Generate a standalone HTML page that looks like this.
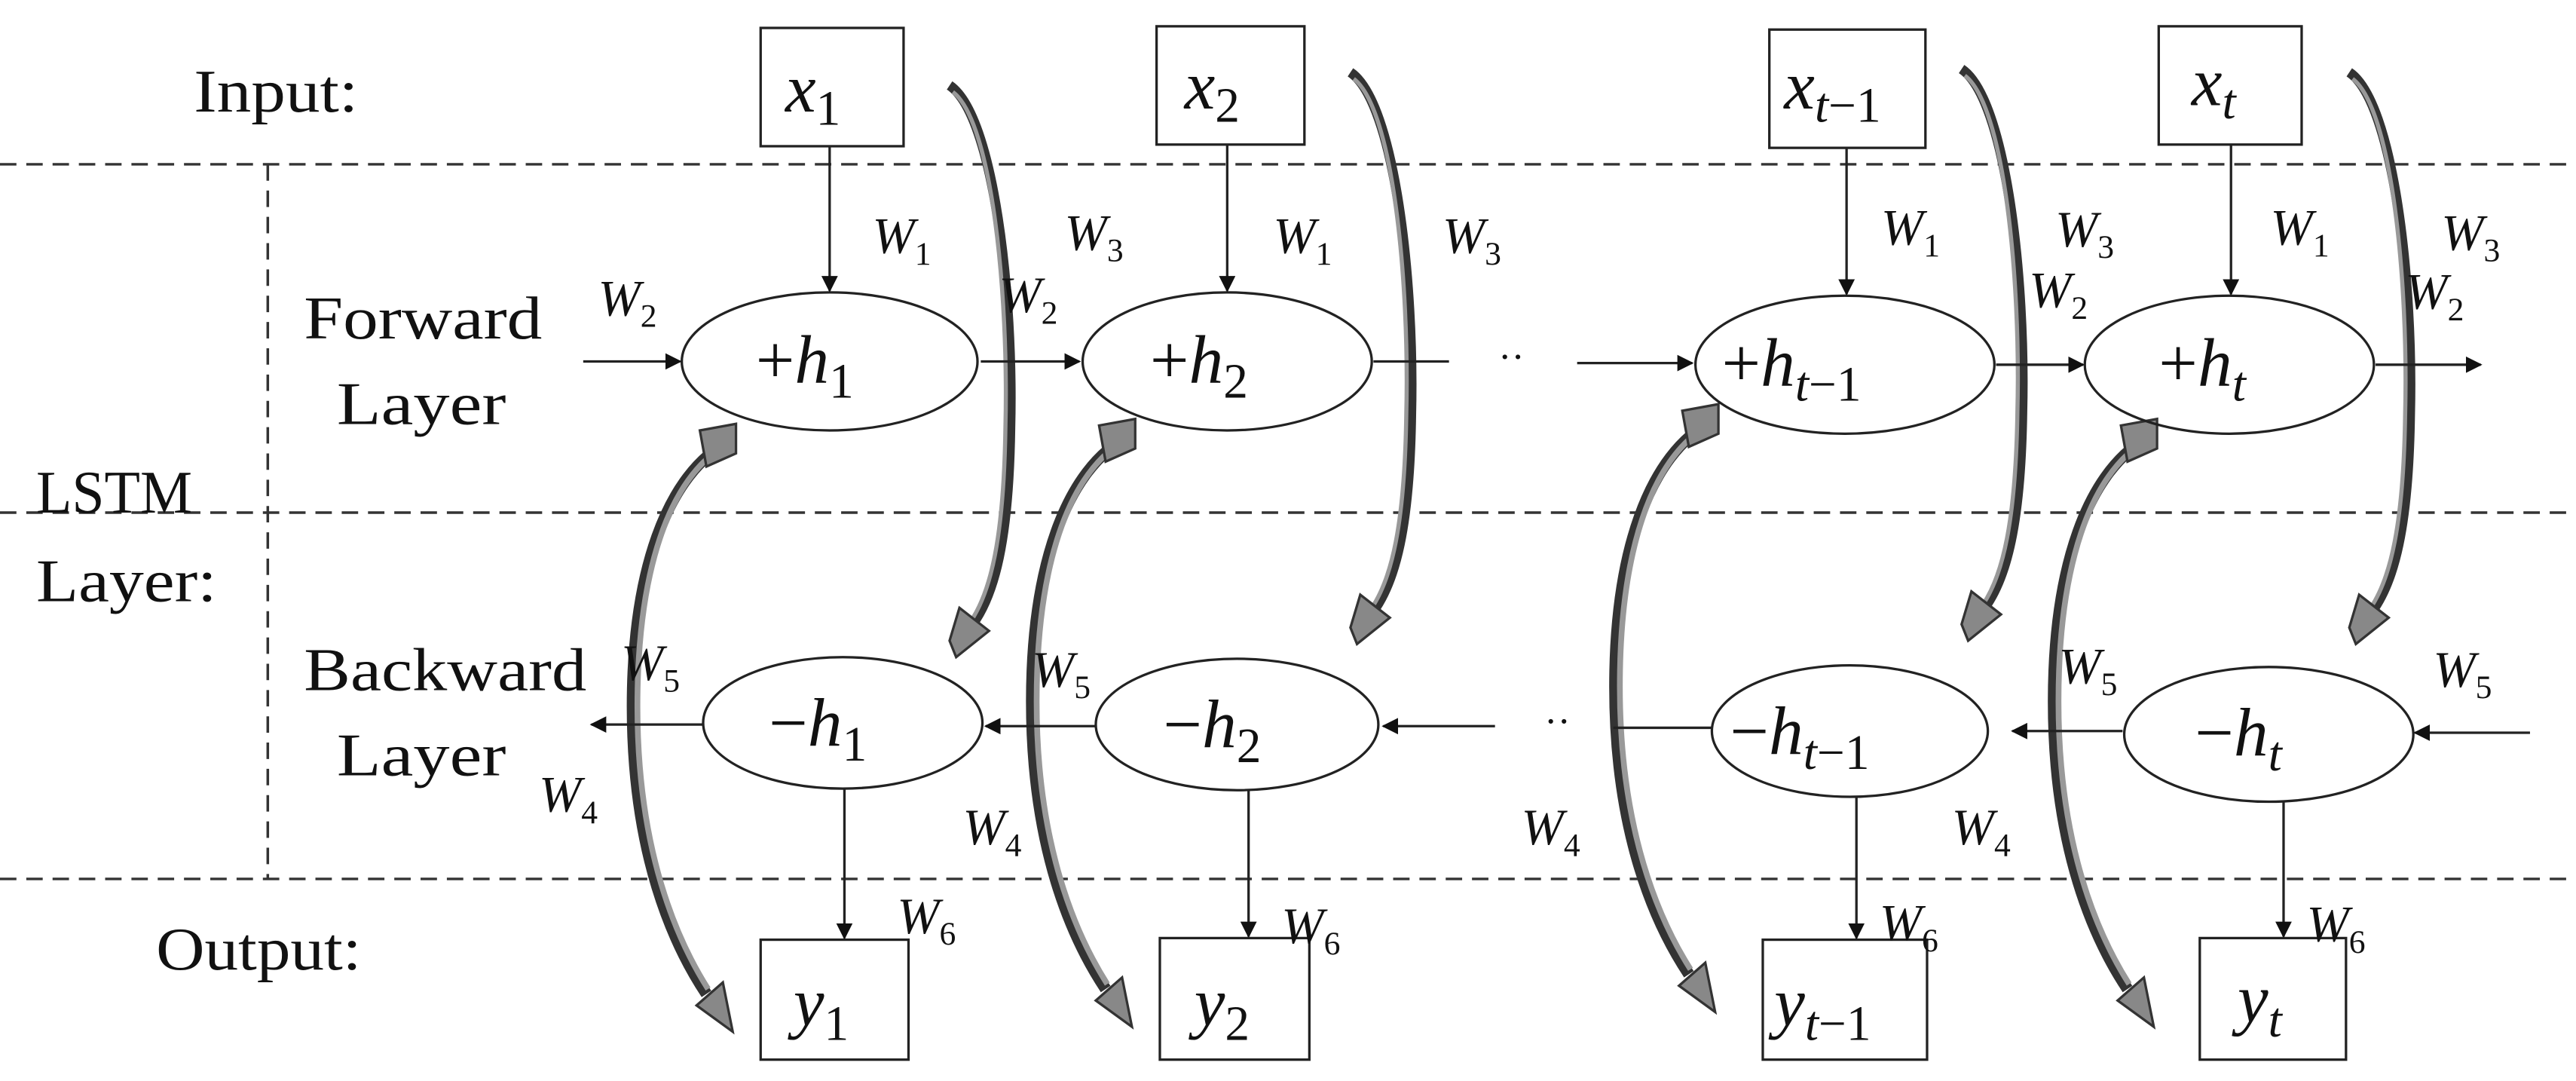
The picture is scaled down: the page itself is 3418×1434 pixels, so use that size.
<!DOCTYPE html>
<html><head><meta charset="utf-8"><style>
html,body{margin:0;padding:0;background:#fff;}
svg{display:block;}
text{font-family:"Liberation Serif",serif;fill:#111;}
.v{font-style:italic;}
</style></head><body>
<svg width="3418" height="1434" viewBox="0 0 1568 658" preserveAspectRatio="none" xmlns="http://www.w3.org/2000/svg">
<defs>
<marker id="ah" markerWidth="10" markerHeight="10" refX="9" refY="5" orient="auto" markerUnits="userSpaceOnUse">
<path d="M0,0 L10,5 L0,10 z" fill="#111"/>
</marker>
<g id="cA">
<path d="M578,52 C605,70 617,180 615,260 C614,330 605,362 592,380" fill="none" stroke="#333" stroke-width="6"/>
<path d="M580,56 C604,74 614,180 612,260 C611,328 603,360 591,378" fill="none" stroke="#999" stroke-width="2.5"/>
<polygon points="584,370 602,384 582,400 578,390" fill="#888" stroke="#333" stroke-width="1.5"/>
</g>
<g id="cB">
<path d="M445,268 C405,288 385,350 385,430 C385,520 410,575 430,605" fill="none" stroke="#333" stroke-width="7"/>
<path d="M443,270 C406,291 388,350 388,430 C388,518 412,572 431,602" fill="none" stroke="#999" stroke-width="3.5"/>
<polygon points="426,262 448,258 448,276 430,284" fill="#888" stroke="#333" stroke-width="1.5"/>
<polygon points="424,612 440,598 446,628" fill="#888" stroke="#333" stroke-width="1.5"/>
</g>
</defs>
<rect width="1568" height="658" fill="#fff"/>
<g stroke="#333" stroke-width="1.6" stroke-dasharray="10,6" fill="none">
<line x1="0" y1="100" x2="1568" y2="100"/>
<line x1="0" y1="312" x2="1568" y2="312"/>
<line x1="0" y1="535" x2="1568" y2="535"/>
<line x1="163" y1="100" x2="163" y2="535"/>
</g>
<g font-size="37">
<text x="118" y="68" textLength="100" lengthAdjust="spacingAndGlyphs">Input:</text>
<text x="95" y="590" textLength="125" lengthAdjust="spacingAndGlyphs">Output:</text>
<text x="22" y="312" textLength="95" lengthAdjust="spacingAndGlyphs">LSTM</text>
<text x="22" y="366" textLength="110" lengthAdjust="spacingAndGlyphs">Layer:</text>
<text x="185" y="206" textLength="145" lengthAdjust="spacingAndGlyphs">Forward</text>
<text x="205" y="258" textLength="103" lengthAdjust="spacingAndGlyphs">Layer</text>
<text x="185" y="420" textLength="172" lengthAdjust="spacingAndGlyphs">Backward</text>
<text x="205" y="472" textLength="103" lengthAdjust="spacingAndGlyphs">Layer</text>
</g>

<use href="#cA"/>
<use href="#cA" transform="translate(244,-8)"/>
<use href="#cA" transform="translate(616,-10)"/>
<use href="#cA" transform="translate(852,-8)"/>
<use href="#cB"/>
<use href="#cB" transform="translate(243,-3)"/>
<use href="#cB" transform="translate(598,-12)"/>
<use href="#cB" transform="translate(865,-3)"/>

<g stroke="#222" stroke-width="1.5" fill="none">
<rect x="463" y="17" width="87" height="72"/>
<rect x="704" y="16" width="90" height="72"/>
<rect x="1077" y="18" width="95" height="72"/>
<rect x="1314" y="16" width="87" height="72"/>
<rect x="463" y="572" width="90" height="73"/>
<rect x="706" y="571" width="91" height="74"/>
<rect x="1073" y="572" width="100" height="73"/>
<rect x="1339" y="571" width="89" height="74"/>
<ellipse cx="505" cy="220" rx="90" ry="42"/>
<ellipse cx="747" cy="220" rx="88" ry="42"/>
<ellipse cx="1123" cy="222" rx="91" ry="42"/>
<ellipse cx="1357" cy="222" rx="88" ry="42"/>
<ellipse cx="513" cy="440" rx="85" ry="40"/>
<ellipse cx="753" cy="441" rx="86" ry="40"/>
<ellipse cx="1126" cy="445" rx="84" ry="40"/>
<ellipse cx="1381" cy="447" rx="88" ry="41"/>
<line x1="505" y1="89" x2="505" y2="177" marker-end="url(#ah)"/>
<line x1="747" y1="88" x2="747" y2="177" marker-end="url(#ah)"/>
<line x1="1124" y1="90" x2="1124" y2="179" marker-end="url(#ah)"/>
<line x1="1358" y1="88" x2="1358" y2="179" marker-end="url(#ah)"/>
<line x1="514" y1="480" x2="514" y2="571" marker-end="url(#ah)"/>
<line x1="760" y1="481" x2="760" y2="570" marker-end="url(#ah)"/>
<line x1="1130" y1="485" x2="1130" y2="571" marker-end="url(#ah)"/>
<line x1="1390" y1="488" x2="1390" y2="570" marker-end="url(#ah)"/>
<line x1="355" y1="220" x2="414" y2="220" marker-end="url(#ah)"/>
<line x1="597" y1="220" x2="657" y2="220" marker-end="url(#ah)"/>
<line x1="836" y1="220" x2="882" y2="220"/>
<line x1="960" y1="221" x2="1030" y2="221" marker-end="url(#ah)"/>
<line x1="1215" y1="222" x2="1268" y2="222" marker-end="url(#ah)"/>
<line x1="1446" y1="222" x2="1510" y2="222" marker-end="url(#ah)"/>
<line x1="428" y1="441" x2="360" y2="441" marker-end="url(#ah)"/>
<line x1="667" y1="442" x2="600" y2="442" marker-end="url(#ah)"/>
<line x1="910" y1="442" x2="842" y2="442" marker-end="url(#ah)"/>
<line x1="982" y1="443" x2="1042" y2="443"/>
<line x1="1292" y1="445" x2="1225" y2="445" marker-end="url(#ah)"/>
<line x1="1540" y1="446" x2="1470" y2="446" marker-end="url(#ah)"/>
</g>
<text x="912" y="225" font-size="24">··</text>
<text x="940" y="447" font-size="24">··</text>

<g font-size="42" class="v">
<text x="478" y="68">x<tspan font-size="30" font-style="normal" dy="8">1</tspan></text>
<text x="721" y="66">x<tspan font-size="30" font-style="normal" dy="8">2</tspan></text>
<text x="1086" y="66">x<tspan font-size="30" dy="8">t</tspan><tspan font-size="30" font-style="normal">−1</tspan></text>
<text x="1334" y="64">x<tspan font-size="30" dy="8">t</tspan></text>
<text x="460" y="233"><tspan font-style="normal">+</tspan>h<tspan font-size="30" font-style="normal" dy="9">1</tspan></text>
<text x="700" y="233"><tspan font-style="normal">+</tspan>h<tspan font-size="30" font-style="normal" dy="9">2</tspan></text>
<text x="1048" y="235"><tspan font-style="normal">+</tspan>h<tspan font-size="30" dy="9">t</tspan><tspan font-size="30" font-style="normal">−1</tspan></text>
<text x="1314" y="235"><tspan font-style="normal">+</tspan>h<tspan font-size="30" dy="9">t</tspan></text>
<text x="468" y="454"><tspan font-style="normal">−</tspan>h<tspan font-size="30" font-style="normal" dy="9">1</tspan></text>
<text x="708" y="455"><tspan font-style="normal">−</tspan>h<tspan font-size="30" font-style="normal" dy="9">2</tspan></text>
<text x="1053" y="459"><tspan font-style="normal">−</tspan>h<tspan font-size="30" dy="9">t</tspan><tspan font-size="30" font-style="normal">−1</tspan></text>
<text x="1336" y="460"><tspan font-style="normal">−</tspan>h<tspan font-size="30" dy="9">t</tspan></text>
<text x="483" y="624">y<tspan font-size="30" font-style="normal" dy="9">1</tspan></text>
<text x="727" y="624">y<tspan font-size="30" font-style="normal" dy="9">2</tspan></text>
<text x="1080" y="624">y<tspan font-size="30" dy="9">t</tspan><tspan font-size="30" font-style="normal">−1</tspan></text>
<text x="1362" y="622">y<tspan font-size="30" dy="9">t</tspan></text>
</g>

<g font-size="31" class="v">
<text x="531" y="154">W<tspan font-size="20" font-style="normal" dy="7">1</tspan></text>
<text x="775" y="154">W<tspan font-size="20" font-style="normal" dy="7">1</tspan></text>
<text x="1145" y="149">W<tspan font-size="20" font-style="normal" dy="7">1</tspan></text>
<text x="1382" y="149">W<tspan font-size="20" font-style="normal" dy="7">1</tspan></text>
<text x="648" y="152">W<tspan font-size="20" font-style="normal" dy="7">3</tspan></text>
<text x="878" y="154">W<tspan font-size="20" font-style="normal" dy="7">3</tspan></text>
<text x="1251" y="150">W<tspan font-size="20" font-style="normal" dy="7">3</tspan></text>
<text x="1486" y="152">W<tspan font-size="20" font-style="normal" dy="7">3</tspan></text>
<text x="364" y="192">W<tspan font-size="20" font-style="normal" dy="7">2</tspan></text>
<text x="608" y="190">W<tspan font-size="20" font-style="normal" dy="7">2</tspan></text>
<text x="1235" y="187">W<tspan font-size="20" font-style="normal" dy="7">2</tspan></text>
<text x="1464" y="188">W<tspan font-size="20" font-style="normal" dy="7">2</tspan></text>
<text x="378" y="414">W<tspan font-size="20" font-style="normal" dy="7">5</tspan></text>
<text x="628" y="418">W<tspan font-size="20" font-style="normal" dy="7">5</tspan></text>
<text x="1253" y="416">W<tspan font-size="20" font-style="normal" dy="7">5</tspan></text>
<text x="1481" y="418">W<tspan font-size="20" font-style="normal" dy="7">5</tspan></text>
<text x="328" y="494">W<tspan font-size="20" font-style="normal" dy="7">4</tspan></text>
<text x="586" y="514">W<tspan font-size="20" font-style="normal" dy="7">4</tspan></text>
<text x="926" y="514">W<tspan font-size="20" font-style="normal" dy="7">4</tspan></text>
<text x="1188" y="514">W<tspan font-size="20" font-style="normal" dy="7">4</tspan></text>
<text x="546" y="568">W<tspan font-size="20" font-style="normal" dy="7">6</tspan></text>
<text x="780" y="574">W<tspan font-size="20" font-style="normal" dy="7">6</tspan></text>
<text x="1144" y="572">W<tspan font-size="20" font-style="normal" dy="7">6</tspan></text>
<text x="1404" y="573">W<tspan font-size="20" font-style="normal" dy="7">6</tspan></text>
</g>
</svg>
</body></html>
